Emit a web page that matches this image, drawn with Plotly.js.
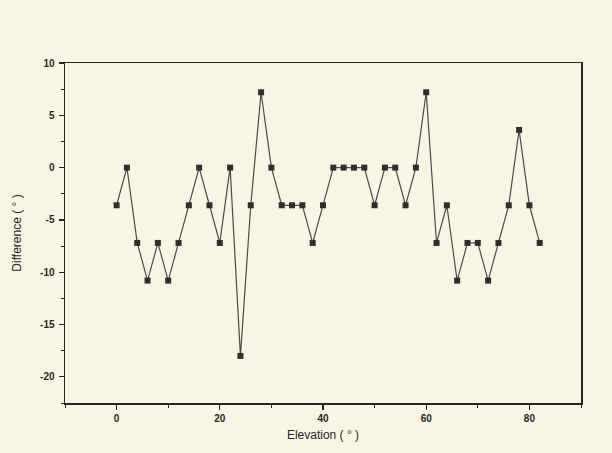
<!DOCTYPE html>
<html>
<head>
<meta charset="utf-8">
<script src="https://cdn.plot.ly/plotly-3.0.1.min.js"></script>
<style>html,body{margin:0;padding:0;background:#f8f6e2;}#chart{width:612px;height:453px;}</style>
</head>
<body>
<div id="chart"></div>
<script>
var elevation = [0,2,4,6,8,10,12,14,16,18,20,22,24,26,28,30,32,34,36,38,40,42,44,46,48,50,52,54,56,58,60,62,64,66,68,70,72,74,76,78,80,82];
var difference = [-3.6,0,-7.2,-10.8,-7.2,-10.8,-7.2,-3.6,0,-3.6,-7.2,0,-18,-3.6,7.2,0,-3.6,-3.6,-3.6,-7.2,-3.6,0,0,0,0,-3.6,0,0,-3.6,0,7.2,-7.2,-3.6,-10.8,-7.2,-7.2,-10.8,-7.2,-3.6,3.6,-3.6,-7.2];
var xTickVals = [0,20,40,60,80];
var xTickText = ["0","20","40","60","80"];
var yTickVals = [10,5,0,-5,-10,-15,-20];
var yTickText = ["10","5","0","-5","-10","-15","-20"];

var bg = '#f8f6e2';
var ink = '#262626';
var trace = {
  x: elevation, y: difference, type: 'scatter', mode: 'lines+markers',
  line: {color: '#4a4a4a', width: 1.2},
  marker: {symbol: 'square', size: 6, color: '#2e2e2e'},
  showlegend: false, hoverinfo: 'skip'
};
var layout = {
  width: 612, height: 453,
  paper_bgcolor: bg, plot_bgcolor: bg,
  margin: {l: 65, r: 31, t: 63, b: 50},
  font: {family: '"Liberation Sans", Arial, sans-serif', color: ink, size: 10},
  xaxis: {
    range: [-10, 90], tickvals: xTickVals, ticktext: xTickText,
    ticks: 'outside', ticklen: 5, tickwidth: 1.2, tickcolor: ink,
    minor: {dtick: 10, tick0: 0, ticks: 'outside', ticklen: 3, tickwidth: 1, tickcolor: ink, showgrid: false},
    showgrid: false, zeroline: false, showline: true, linecolor: ink, linewidth: 1.5, mirror: true,
    tickfont: {size: 10, color: ink, weight: 'bold'},
    title: {text: 'Elevation ( ° )', font: {size: 12, color: ink}, standoff: 8}
  },
  yaxis: {
    range: [-22.5, 10], tickvals: yTickVals, ticktext: yTickText,
    ticks: 'outside', ticklen: 5, tickwidth: 1.2, tickcolor: ink,
    ticklabelstandoff: 2,
    minor: {dtick: 2.5, tick0: 0, ticks: 'outside', ticklen: 3, tickwidth: 1, tickcolor: ink, showgrid: false},
    showgrid: false, zeroline: false, showline: true, linecolor: ink, linewidth: 1.5, mirror: true,
    tickfont: {size: 10, color: ink, weight: 'bold'},
    title: {text: 'Difference ( ° )', font: {size: 12, color: ink}, standoff: 16}
  }
};
Plotly.newPlot('chart', [trace], layout, {staticPlot: true, displayModeBar: false});
</script>
</body>
</html>
